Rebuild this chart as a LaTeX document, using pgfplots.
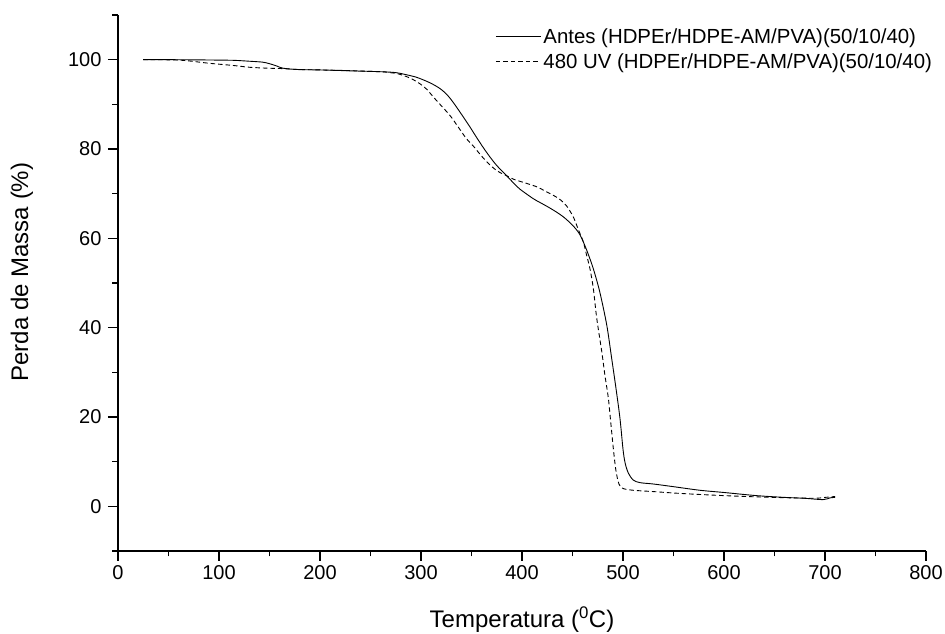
\documentclass[border=0pt]{standalone}
\usepackage{pgfplots}
\pgfplotsset{compat=1.18}
\usepackage{fontspec}
\setmainfont{Liberation Sans}
\begin{document}
\begin{tikzpicture}
\path[use as bounding box] (-118pt,-83pt) rectangle (827pt,551pt);
\begin{axis}[
  at={(0pt,0pt)}, anchor=south west,
  scale only axis, width=808pt, height=536pt,
  xmin=0, xmax=800, ymin=-10, ymax=110,
  axis lines*=left,
  axis line style={line width=1.3pt},
  xtick={0,100,...,800}, ytick={0,20,...,100},
  minor xtick={50,150,...,750},
  minor ytick={-10,10,30,50,70,90,110},
  tick align=outside,
  major tick length=10pt, minor tick length=5.5pt,
  every tick/.style={black, line width=1.3pt},
  /pgf/number format/assume math mode=true,
  /pgf/number format/1000 sep={},
  ticklabel style={font=\fontsize{20}{23}\selectfont},
  xticklabel style={yshift=-1pt},
  yticklabel style={xshift=-3pt},
  xlabel={Temperatura (\textsuperscript{0}C)},
  ylabel={Perda de Massa (\%)},
  xlabel style={at={(axis description cs:0.5,-0.1287)}, anchor=center, font=\fontsize{24}{28}\selectfont},
  ylabel style={at={(axis description cs:-0.1188,0.5205)}, anchor=center, rotate=0, font=\fontsize{24}{28}\selectfont},
  legend style={at={(axis description cs:0.467,0.979)}, anchor=north west, draw=none, fill=none,
    inner sep=0pt, row sep=4.5pt, font=\fontsize{20.4}{23}\selectfont,
    nodes={inner sep=2pt}},
  legend cell align=left,
  legend image code/.code={\draw[#1] (0pt,0pt) -- (45pt,0pt);},
]
\addplot[black, line width=0.9pt, smooth] coordinates {
(25,100.0) (50,100.0) (80,99.95) (100,99.9) (115,99.85) (130,99.65) (143,99.45) (150,99.1)
(157,98.6) (163,98.1) (177,97.8) (200,97.7) (230,97.5) (260,97.3) (275,97.1) (286,96.6)
(295,96.1) (302,95.5) (310,94.7) (319,93.5) (326,92.1) (332,90.4) (340,87.8) (348,85.1)
(355,82.6) (362,80.2) (368,78.3) (375,76.3) (384,74.2) (392,72.3) (398,71.0) (411,68.9)
(418,68.0) (426,67.0) (434,65.9) (441,64.8) (447.5,63.5) (453,62.2) (457.4,60.8) (460.7,59.2)
(465,56.8) (470.6,53.2) (477,48.0) (483.9,40.6) (488.8,33.1) (493,26.5) (497,19.7)
(500,12.8) (502,9.8) (505,7.6) (510,5.9) (517,5.3) (530,5.0) (550,4.4) (576,3.6) (600,3.1)
(632,2.4) (660,2.0) (680,1.8) (698,1.5) (705,1.9) (710,2.0)
};
\addlegendentry{Antes (HDPEr/HDPE-AM/PVA)(50/10/40)}
\addplot[black, line width=0.9pt, dash pattern=on 4.5pt off 3pt, smooth] coordinates {
(25,100.0) (40,100.0) (60,99.9) (71,99.7) (90,99.2) (114,98.7) (130,98.3) (147,98.1)
(163,98.0) (180,97.8) (220,97.6) (260,97.3) (269,97.1) (276,96.9) (282,96.5) (290,95.8)
(299,94.6) (306,93.3) (312,91.7) (320,89.7) (328.7,87.5) (336,85.2) (345,82.3) (352,80.6)
(360,78.4) (368,76.5) (376,75.0) (384,74.1) (392,73.2) (404.6,72.3) (415,71.5) (424.4,70.4)
(432,69.5) (437.6,68.7) (444,67.3) (450.8,64.8) (455.7,62.0) (460.7,59.2) (464,56.2) (467.3,53.2)
(470.6,48.8) (474,42.1) (479,34.6) (482,29.5) (485.5,24.2) (488,18.5) (490.4,13.0) (493,8.0)
(496,5.0) (500,4.0) (510,3.6) (530,3.3) (556,2.9) (590,2.5) (622,2.2) (650,2.0) (688,1.8)
(700,2.0) (710,2.2)
};
\addlegendentry{480 UV (HDPEr/HDPE-AM/PVA)(50/10/40)}
\end{axis}
\end{tikzpicture}
\end{document}
